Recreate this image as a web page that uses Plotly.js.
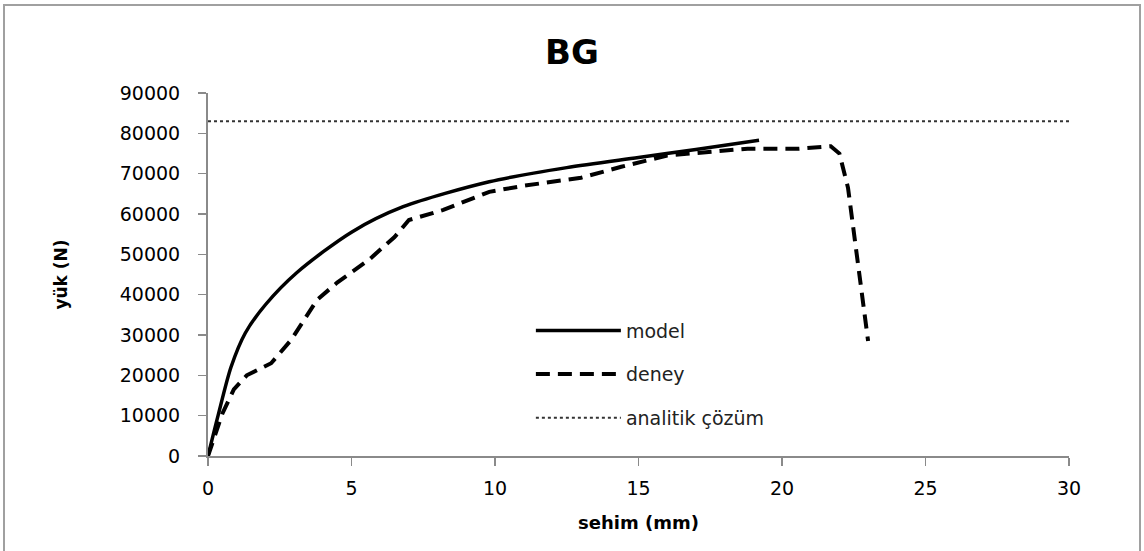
<!DOCTYPE html>
<html>
<head>
<meta charset="utf-8">
<script src="https://cdn.plot.ly/plotly-3.0.1.min.js"></script>
<style>
  html, body { margin: 0; padding: 0; background: #fff; }
  #wrap { position: relative; width: 1144px; height: 551px; overflow: hidden; }
  #chart { width: 1144px; height: 551px; }
  #frame { position: absolute; left: 3px; top: 4px; width: 1134px; height: 600px;
           border: 2px solid #a0a0a0; pointer-events: none; }
</style>
</head>
<body>
<div id="wrap">
  <div id="chart"></div>
  <div id="frame"></div>
</div>
<script>
// sehim (mm) / yük (N)
const modelX = [0, 0.35, 0.8, 1.3, 2.0, 3.1, 5.0, 6.8, 9.8, 12.5, 15.0, 17.0, 19.2];
const modelY = [0, 10000, 22000, 30500, 37500, 45500, 55500, 61800, 68000, 71500, 74000, 76000, 78300];

const deneyX = [0, 0.5, 0.9, 1.35, 2.2, 2.9, 3.8, 4.5, 5.6, 6.5, 7.0, 8.2, 9.8, 11.0, 13.0, 14.4, 16.0, 17.8, 18.8, 20.6, 21.7, 22.0, 22.3, 23.0];
const deneyY = [0, 10500, 16500, 20000, 23000, 28800, 38700, 43000, 48600, 54300, 58500, 61000, 65500, 67000, 69000, 71700, 74500, 75500, 76200, 76200, 76800, 75000, 66500, 28500];

const analitikX = [0, 30];
const analitikY = [83000, 83000];

const xTicks = [0, 5, 10, 15, 20, 25, 30];
const yTicks = [0, 10000, 20000, 30000, 40000, 50000, 60000, 70000, 80000, 90000];

const FONT = '"DejaVu Sans", Verdana, sans-serif';

const traces = [
  { x: modelX, y: modelY, name: 'model', mode: 'lines', legendgroup: 'a',
    line: { color: '#000', width: 3.5, shape: 'spline', smoothing: 0.8 } },
  { x: deneyX, y: deneyY, name: 'deney', mode: 'lines', legendgroup: 'b',
    line: { color: '#000', width: 4, dash: '14px,8px' } },
  { x: analitikX, y: analitikY, name: 'analitik çözüm', mode: 'lines', legendgroup: 'c',
    line: { color: '#333', width: 2, dash: '3px,3px' } }
];

const layout = {
  width: 1144, height: 551,
  margin: { l: 208, r: 75, t: 93, b: 95 },
  paper_bgcolor: '#fff', plot_bgcolor: '#fff',
  font: { family: FONT, color: '#000', size: 18 },
  title: { text: '<b>BG</b>', font: { family: FONT, size: 34, color: '#000' },
           x: 0.5, xanchor: 'center', y: 0.905, yanchor: 'middle' },
  xaxis: {
    range: [0, 30], tickvals: xTicks, ticktext: xTicks.map(String),
    showgrid: false, zeroline: false, showline: true, linecolor: '#8a8a8a', linewidth: 2,
    ticks: 'outside', ticklen: 8, tickcolor: '#8a8a8a', tickwidth: 1.5,
    ticklabelstandoff: 6,
    tickfont: { family: FONT, size: 19, color: '#000' },
    title: { text: '<b>sehim (mm)</b>', font: { family: FONT, size: 18, color: '#000' }, standoff: 19 }
  },
  yaxis: {
    range: [0, 90000], tickvals: yTicks, ticktext: yTicks.map(String),
    showgrid: false, zeroline: false, showline: true, linecolor: '#8a8a8a', linewidth: 2,
    ticks: 'outside', ticklen: 8, tickcolor: '#8a8a8a', tickwidth: 1.5,
    ticklabelstandoff: 14,
    tickfont: { family: FONT, size: 19, color: '#000' },
    title: { text: '<b>yük (N)</b>', font: { family: FONT, size: 17, color: '#000' }, standoff: 48 }
  },
  showlegend: true,
  legend: {
    x: 0.375, xanchor: 'left', y: 0.398, yanchor: 'top',
    bgcolor: 'rgba(0,0,0,0)', borderwidth: 0,
    font: { family: FONT, size: 19, color: '#222' },
    itemwidth: 85, tracegroupgap: 16
  }
};

Plotly.newPlot('chart', traces, layout, { displayModeBar: false, staticPlot: true });
</script>
</body>
</html>
